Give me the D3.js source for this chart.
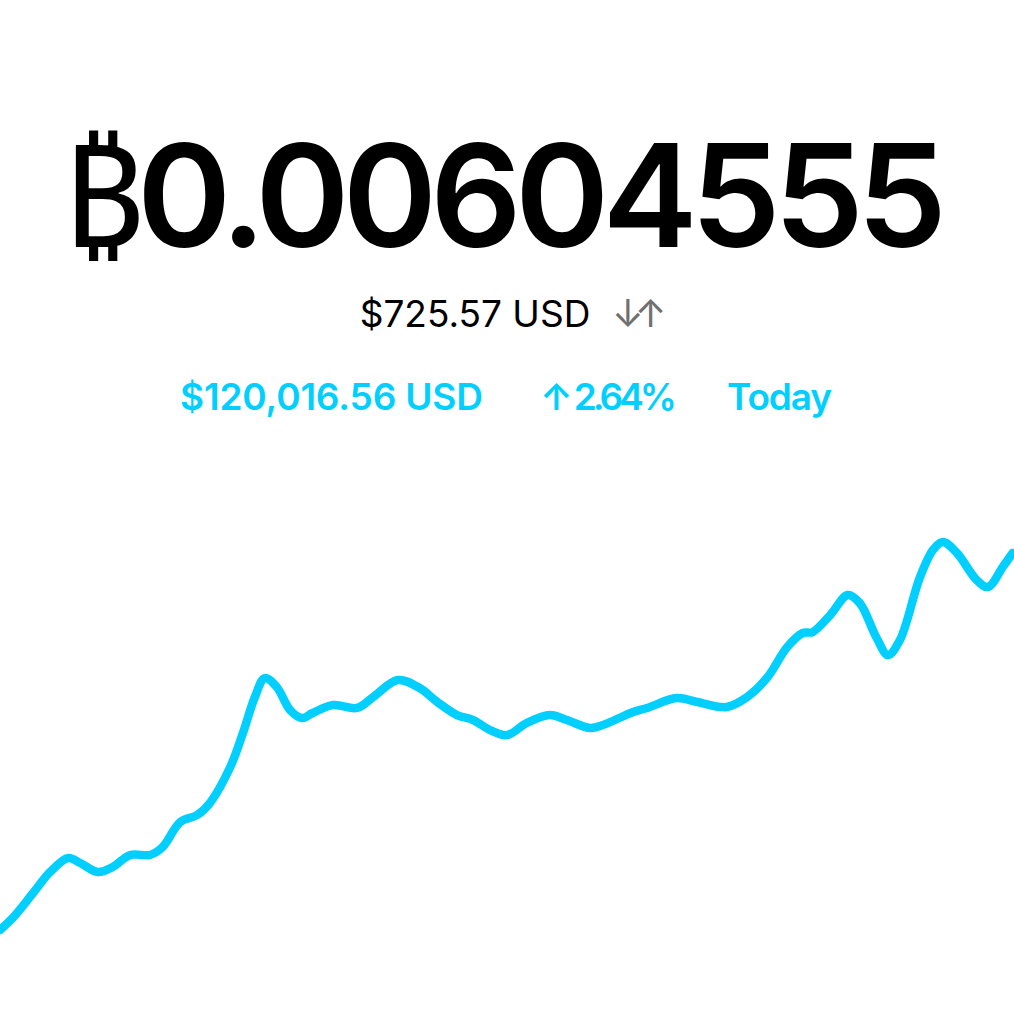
<!DOCTYPE html>
<html>
<head>
<meta charset="utf-8">
<script src="https://cdn.jsdelivr.net/npm/d3@7"></script>
<style>
  html, body { margin: 0; padding: 0; background: #fff; }
  #chart { width: 1014px; height: 1024px; }
</style>
</head>
<body>
<div id="chart"></div>
<script>
// minutes since midnight, and BTC price in USD
var minutes = [0, 18, 47, 71, 97, 114, 139, 160, 185, 213, 231, 256, 280, 298, 327, 345, 362, 376, 393, 412,
  429, 444, 473, 507, 530, 565, 596, 621, 649, 672, 696, 720, 748, 781, 805, 838, 856, 899, 919, 961,
  990, 1032, 1061, 1089, 1118, 1140, 1154, 1179, 1204, 1221, 1245, 1261, 1278, 1306, 1325, 1339, 1359, 1387, 1403, 1424, 1438];
var prices = [116928, 117027, 117231, 117403, 117518, 117477, 117403, 117444, 117543, 117543, 117608, 117813, 117870, 117968, 118263, 118542, 118837, 118992, 118919, 118730,
  118665, 118706, 118771, 118747, 118837, 118976, 118910, 118796, 118689, 118648, 118566, 118525, 118624, 118689, 118648, 118583, 118607, 118714, 118747, 118828,
  118796, 118755, 118837, 118992, 119246, 119361, 119369, 119508, 119672, 119606, 119320, 119181, 119303, 119811, 120041, 120106, 120016, 119795, 119738, 119901, 120016];

var btcSign = "₿";
var balanceText = "0.00604555";
var fiatText = "$725.57 USD";
var priceText = "$120,016.56 USD";
var changeText = "↑ 2.64%";
var periodText = "Today";

var width = 1014, height = 1024;
var cyan = "#00cfff";
var font = "Inter, 'Noto Sans', sans-serif";

var svg = d3.select("#chart").append("svg")
    .attr("width", width)
    .attr("height", height);

// header
var big = svg.append("text")
    .attr("x", 62)
    .attr("y", 247)
    .attr("textLength", 885)
    .attr("lengthAdjust", "spacing")
    .style("font-family", font)
    .style("font-size", "143px")
    .attr("fill", "#000");
big.append("tspan")
    .style("font-family", "'Noto Sans', 'DejaVu Sans', sans-serif")
    .style("font-weight", 400)
    .text(btcSign);
big.append("tspan")
    .style("font-weight", 600)
    .text(balanceText);

svg.append("text")
    .attr("x", 475)
    .attr("y", 327)
    .attr("text-anchor", "middle")
    .style("font-family", font)
    .style("font-weight", 400)
    .style("font-size", "37px")
    .attr("fill", "#000")
    .text(fiatText);

svg.append("text")
    .attr("x", 612)
    .attr("y", 327)
    .style("font-family", font)
    .style("font-weight", 400)
    .style("font-size", "38px")
    .style("letter-spacing", "-9px")
    .attr("fill", "#707070")
    .text("↓↑");

var row = [
  {t: priceText, x: 180, w: 303},
  {t: changeText, x: 540, w: 137},
  {t: periodText, x: 727, w: 105}
];
svg.selectAll(".info")
    .data(row)
    .enter().append("text")
    .attr("class", "info")
    .attr("x", function(d) { return d.x; })
    .attr("y", 410)
    .attr("textLength", function(d) { return d.w; })
    .attr("lengthAdjust", "spacing")
    .style("font-family", font)
    .style("font-weight", 600)
    .style("font-size", "37px")
    .attr("fill", cyan)
    .text(function(d) { return d.t; });

// price line
var x = d3.scaleLinear()
    .domain([0, 1440])
    .range([0, width]);
var y = d3.scaleLinear()
    .domain([116912, 120131])
    .range([932, 539]);

var data = minutes.map(function(m, i) { return {m: m, p: prices[i]}; });

var line = d3.line()
    .x(function(d) { return x(d.m); })
    .y(function(d) { return y(d.p); })
    .curve(d3.curveCatmullRom.alpha(0.5));

svg.append("path")
    .datum(data)
    .attr("d", line)
    .attr("fill", "none")
    .attr("stroke", cyan)
    .attr("stroke-width", 8.5)
    .attr("stroke-linecap", "round")
    .attr("stroke-linejoin", "round");
</script>
</body>
</html>
